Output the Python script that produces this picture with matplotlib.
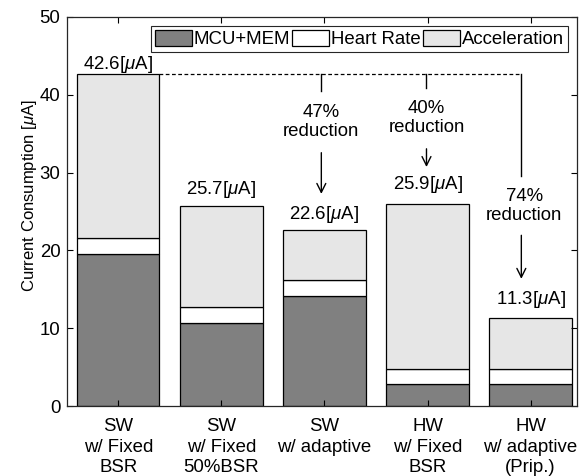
import matplotlib
matplotlib.use("Agg")
import matplotlib.pyplot as plt
import numpy as np

plt.rcParams['font.family'] = ['Liberation Sans', 'DejaVu Sans']
plt.rcParams['mathtext.fontset'] = 'custom'
plt.rcParams['mathtext.it'] = 'Liberation Sans:italic'
plt.rcParams['mathtext.rm'] = 'Liberation Sans'

categories = ["SW\nw/ Fixed\nBSR", "SW\nw/ Fixed\n50%BSR", "SW\nw/ adaptive",
              "HW\nw/ Fixed\nBSR", "HW\nw/ adaptive\n(Prip.)"]
mcu_mem = [19.6, 10.7, 14.2, 2.8, 2.8]
heart_rate = [2.0, 2.0, 2.0, 2.0, 2.0]
totals = [42.6, 25.7, 22.6, 25.9, 11.3]
acceleration = [t - m - h for t, m, h in zip(totals, mcu_mem, heart_rate)]
series_names = ["MCU+MEM", "Heart Rate", "Acceleration"]
colors = ["#808080", "#ffffff", "#e6e6e6"]
reductions = ["47%", "40%", "74%"]

FS = 13.4

fig = plt.figure(figsize=(5.88, 4.76), dpi=100)
ax = fig.add_axes([0.1134, 0.1464, 0.9813 - 0.1134, 0.965 - 0.1464])

x = np.arange(1, len(categories) + 1)
bottom = np.zeros(len(x))
for vals, name, c in zip([mcu_mem, heart_rate, acceleration], series_names, colors):
    ax.bar(x, vals, 0.8, bottom=bottom, color=c, edgecolor='black', linewidth=0.9, label=name)
    bottom += np.array(vals)

ax.set_xlim(0.5, 5.45)
ax.set_ylim(0, 50)
ax.set_yticks([0, 10, 20, 30, 40, 50])
ax.set_xticks(x)
ax.set_xticklabels(categories, fontsize=FS, linespacing=1.27)
ax.tick_params(axis='y', labelsize=FS, direction='in', length=4, right=True, pad=4.5)
ax.tick_params(axis='x', direction='in', length=4, top=True, pad=8.5)
for s in ax.spines.values():
    s.set_color('#262626')
    s.set_linewidth(0.9)
ax.set_ylabel(r'Current Consumption [$\mu$A]', fontsize=12)
ax.yaxis.set_label_coords(-0.055, 0.542)

# value labels
offsets = [1.3, 2.1, 2.0, 2.5, 2.4]
for xi, t, off in zip(x, totals, offsets):
    ax.text(xi, t + off, f"{t}" + r"[$\mu$A]", ha='center', va='center', fontsize=FS)

# annotation lines
ref = totals[0]
ax.plot([1.4, 4.91], [ref, ref], ls=(0, (3, 2)), color='black', lw=0.9)
arrow_kw = dict(arrowstyle='->', color='black', lw=1.0, mutation_scale=16)

# 47%
ax.plot([2.97, 2.97], [ref, 40.4], color='black', lw=1.0)
ax.text(2.97, 36.5, f"{reductions[0]}\nreduction", ha='center', va='center', fontsize=FS,
        linespacing=1.15)
ax.annotate('', xy=(2.97, 26.9), xytext=(2.97, 32.9), arrowprops=arrow_kw)
# 40%
ax.plot([3.99, 3.99], [ref, 40.9], color='black', lw=1.0)
ax.text(3.99, 36.95, f"{reductions[1]}\nreduction", ha='center', va='center', fontsize=FS,
        linespacing=1.15)
ax.annotate('', xy=(3.99, 30.35), xytext=(3.99, 33.4), arrowprops=arrow_kw)
# 74%
ax.plot([4.91, 4.91], [ref, 29.5], color='black', lw=1.0)
ax.text(4.94, 25.7, f"{reductions[2]}\nreduction", ha='center', va='center', fontsize=FS,
        linespacing=1.15)
ax.annotate('', xy=(4.91, 16.0), xytext=(4.91, 22.3), arrowprops=arrow_kw)

leg = ax.legend(loc='upper right', ncol=3, fontsize=FS, frameon=True, fancybox=False,
                edgecolor='#262626', framealpha=1, handlelength=2.0, handleheight=0.95,
                handletextpad=0.1, columnspacing=0.1, borderpad=0.2, borderaxespad=0.5)
leg.get_frame().set_linewidth(0.8)

fig.savefig("out.png", dpi=100)
